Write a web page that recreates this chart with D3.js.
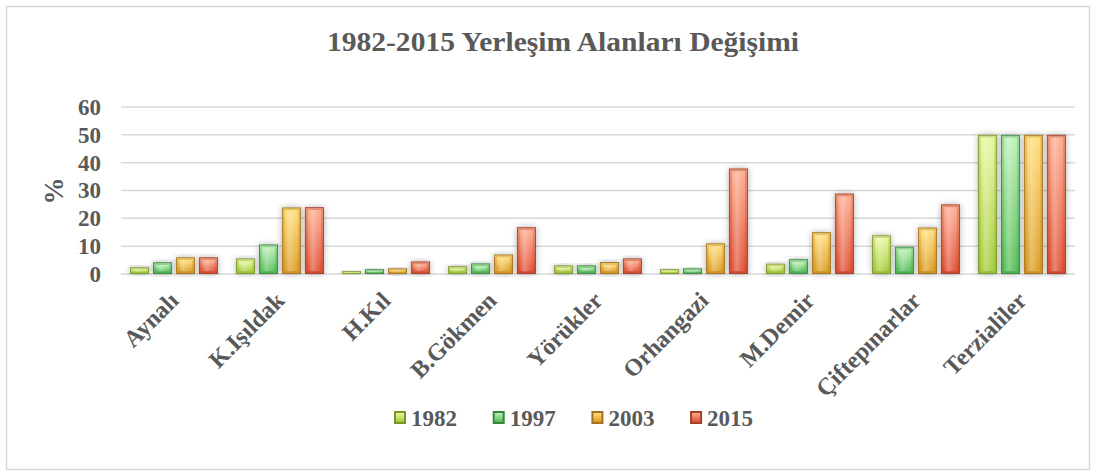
<!DOCTYPE html>
<html>
<head>
<meta charset="utf-8">
<style>
body { margin: 0; background: #fff; }
text { font-family: "Liberation Serif", "DejaVu Serif", serif; font-weight: bold; fill: #595959; }
</style>
</head>
<body></body>
<script src="https://d3js.org/d3.v7.min.js"></script>
<script>

// chart data
var categories = ["Aynalı", "K.Işıldak", "H.Kıl", "B.Gökmen", "Yörükler", "Orhangazi", "M.Demir", "Çiftepınarlar", "Terzialiler"];
var years = ["1982", "1997", "2003", "2015"];
var v1982 = [2.4, 5.6, 1.0, 2.8, 3.1, 1.7, 3.7, 13.9, 50];
var v1997 = [4.2, 10.6, 1.7, 3.8, 3.1, 2.0, 5.3, 9.8, 50];
var v2003 = [6.0, 23.9, 2.0, 7.0, 4.3, 11.0, 15.0, 16.7, 50];
var v2015 = [6.0, 24.0, 4.5, 16.8, 5.6, 37.9, 28.9, 25.0, 50];
var yTicks = [0, 10, 20, 30, 40, 50, 60];

var seriesValues = [v1982, v1997, v2003, v2015];

// top, bottom, edge colours per series
var palette = [
	{top: "#e8f7a0", bot: "#a4cc38", edge: "#7a9530"},
	{top: "#baf0b4", bot: "#55bd57", edge: "#3b8440"},
	{top: "#ffdd7a", bot: "#dc9c24", edge: "#a27322"},
	{top: "#fdab8f", bot: "#e04f34", edge: "#a2402b"}
];

var W = 1096, H = 475;
var margin = {top: 107, right: 21, bottom: 201, left: 121};
var width = W - margin.left - margin.right,
    height = H - margin.top - margin.bottom;

var svg = d3.select("body").append("svg")
	.attr("width", W)
	.attr("height", H);

var defs = svg.append("defs");

palette.forEach((p, i) => {
	var g = defs.append("linearGradient")
		.attr("id", "grad" + i)
		.attr("x1", 0).attr("y1", 0).attr("x2", 0).attr("y2", 1);
	g.append("stop").attr("offset", "0%").attr("stop-color", p.top);
	g.append("stop").attr("offset", "100%").attr("stop-color", p.bot);

	var h = defs.append("linearGradient")
		.attr("id", "hl" + i)
		.attr("x1", 0).attr("y1", 0).attr("x2", 1).attr("y2", 0);
	h.append("stop").attr("offset", "0%").attr("stop-color", "#fff").attr("stop-opacity", 0);
	h.append("stop").attr("offset", "35%").attr("stop-color", "#fff").attr("stop-opacity", 0.3);
	h.append("stop").attr("offset", "100%").attr("stop-color", "#fff").attr("stop-opacity", 0);
});

var shadow = defs.append("filter").attr("id", "shadow")
	.attr("x", "-50%").attr("y", "-20%").attr("width", "200%").attr("height", "140%");
shadow.append("feDropShadow")
	.attr("dx", 0).attr("dy", 0).attr("stdDeviation", 3)
	.attr("flood-color", "#000").attr("flood-opacity", 0.3);

// outer frame
svg.append("rect")
	.attr("x", 6.5).attr("y", 6.5)
	.attr("width", W - 13).attr("height", H - 12)
	.attr("fill", "none")
	.attr("stroke", "#d9d9d9")
	.attr("stroke-width", 1.5);

svg.append("text")
	.attr("x", 563)
	.attr("y", 51)
	.attr("text-anchor", "middle")
	.attr("font-size", 27)
	.attr("textLength", 472)
	.attr("lengthAdjust", "spacingAndGlyphs")
	.text("1982-2015 Yerleşim Alanları Değişimi");

var chart = svg.append("g")
	.attr("transform", "translate(" + margin.left + "," + margin.top + ")");

var x0 = d3.scaleBand()
	.domain(categories)
	.range([0, width])
	.padding(0);

var x1 = d3.scaleBand()
	.domain(years)
	.range([x0.bandwidth() * 0.085, x0.bandwidth() * 0.915])
	.paddingInner(0.17)
	.paddingOuter(0);

var y = d3.scaleLinear()
	.domain([0, 60])
	.range([height, 0]);

// gridlines
chart.append("g")
	.selectAll("line")
	.data(yTicks)
	.enter().append("line")
	.attr("x1", 0)
	.attr("x2", width)
	.attr("y1", d => y(d))
	.attr("y2", d => y(d))
	.attr("stroke", "#d9d9d9")
	.attr("stroke-width", 1.5);

var yAxis = chart.append("g")
	.call(d3.axisLeft(y).tickValues(yTicks).tickSize(0).tickPadding(20));
yAxis.select(".domain").remove();
yAxis.selectAll("text")
	.attr("font-size", 23)
	.attr("font-family", null)
	.attr("fill", null);

svg.append("text")
	.attr("transform", "translate(63,191) rotate(-90)")
	.attr("text-anchor", "middle")
	.attr("font-size", 27)
	.text("%");

// bars
var groups = chart.selectAll(".grp")
	.data(categories)
	.enter().append("g")
	.attr("class", "grp")
	.attr("transform", d => "translate(" + x0(d) + ",0)");

groups.selectAll(".bar")
	.data((d, ci) => years.map((yr, si) => ({yr: yr, si: si, v: seriesValues[si][ci]})))
	.enter().append("g")
	.attr("class", "bar")
	.each(function(d) {
		var g = d3.select(this);
		var bx = x1(d.yr), bw = x1.bandwidth();
		var by = y(d.v), bh = y(0) - y(d.v);
		var p = palette[d.si];
		g.append("rect")
			.attr("x", bx).attr("y", by)
			.attr("width", bw).attr("height", bh)
			.attr("fill", p.edge)
			.attr("filter", "url(#shadow)");
		var ins = Math.min(2.8, bh / 3);
		g.append("rect")
			.attr("x", bx + 0.8).attr("y", by + 0.8)
			.attr("width", bw - 1.6).attr("height", Math.max(0, bh - 1.6))
			.attr("fill", "url(#grad" + d.si + ")")
			.attr("opacity", 0.75);
		g.append("rect")
			.attr("x", bx + ins).attr("y", by + ins)
			.attr("width", bw - 2 * ins).attr("height", Math.max(0, bh - 2 * ins))
			.attr("fill", "url(#grad" + d.si + ")");
		g.append("rect")
			.attr("x", bx + ins).attr("y", by + ins)
			.attr("width", bw - 2 * ins).attr("height", Math.max(0, bh - 2 * ins))
			.attr("fill", "url(#hl" + d.si + ")");
	});

// category labels
chart.append("g")
	.selectAll("text")
	.data(categories)
	.enter().append("text")
	.attr("transform", d => "translate(" + (x0(d) + x0.bandwidth() / 2 + 6) + "," + (height + 28) + ") rotate(-45)")
	.attr("text-anchor", "end")
	.attr("font-size", 24)
	.text(d => d);

// legend
var legend = svg.append("g")
	.attr("transform", "translate(394,411)");

var item = legend.selectAll("g")
	.data(years)
	.enter().append("g")
	.attr("transform", (d, i) => "translate(" + (i * 98.7) + ",0)");

item.append("rect")
	.attr("width", 12).attr("height", 13)
	.attr("fill", (d, i) => palette[i].edge);
item.append("rect")
	.attr("x", 2).attr("y", 2)
	.attr("width", 8).attr("height", 9)
	.attr("fill", (d, i) => "url(#grad" + i + ")");
item.append("text")
	.attr("x", 17)
	.attr("y", 15)
	.attr("font-size", 23)
	.text(d => d);

</script>
</html>
